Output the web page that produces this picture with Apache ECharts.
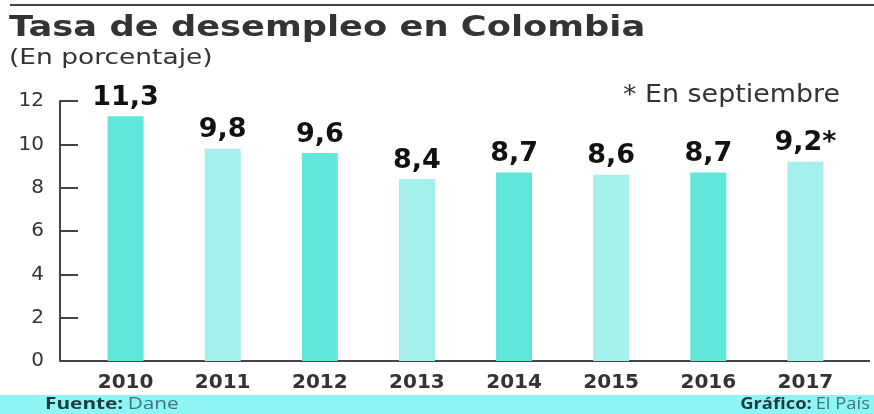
<!DOCTYPE html>
<html>
<head>
<meta charset="utf-8">
<script src="https://cdn.jsdelivr.net/npm/echarts@6/dist/echarts.min.js"></script>
<style>
  html, body { margin: 0; padding: 0; background: #fff; }
  #chart { width: 874px; height: 414px; }
</style>
</head>
<body>
<div id="chart"></div>
<script>
// data
const years = ["2010", "2011", "2012", "2013", "2014", "2015", "2016", "2017"];
const unemployment = [11.3, 9.8, 9.6, 8.4, 8.7, 8.6, 8.7, 9.2];
const notes = ["", "", "", "", "", "", "", "*"];
const yTicks = [0, 2, 4, 6, 8, 10, 12];

const chart = echarts.init(document.getElementById("chart"));

// the source graphic is stretched sideways, so text gets a scaleX
const stretchText = (x, y, text, font, fill, scaleX, align) => ({
  type: "text",
  x: x,
  y: y,
  scaleX: scaleX,
  style: { x: 0, y: 0, text: text, font: font, fill: fill, align: align || "left", verticalAlign: "top" },
});

const footerRich = {
  b: { fill: "#1e3a3c", font: "bold 16px 'Open Sans'" },
  n: { fill: "#3f7478", font: "16px 'Open Sans'" },
};

const option = {
  animation: false,
  backgroundColor: "#ffffff",
  grid: { left: 77, right: 20, top: 101, bottom: 53 },
  xAxis: {
    type: "category",
    data: years,
    axisLine: { show: false },
    axisTick: { show: false },
    axisLabel: {
      margin: 12,
      color: "#333",
      fontFamily: "DejaVu Sans",
      fontWeight: "bold",
      fontSize: 20,
    },
  },
  yAxis: {
    type: "value",
    min: yTicks[0],
    max: yTicks[yTicks.length - 1],
    interval: 2,
    offset: 17,
    axisLine: { show: true, lineStyle: { color: "#444", width: 2 } },
    axisTick: { show: true, inside: true, length: 18, lineStyle: { color: "#444", width: 2 } },
    splitLine: { show: false },
    axisLabel: {
      margin: 16,
      color: "#333",
      fontFamily: "DejaVu Sans",
      fontSize: 20,
    },
  },
  series: [
    {
      type: "bar",
      data: unemployment,
      barWidth: 36,
      itemStyle: {
        color: (p) => (p.dataIndex % 2 === 0 ? "#62e6dc" : "#a3f0ec"),
      },
      label: {
        show: true,
        position: "top",
        distance: 5,
        color: "#111",
        fontFamily: "DejaVu Sans",
        fontWeight: "bold",
        fontSize: 27,
        formatter: (p) => p.value.toFixed(1).replace(".", ",") + notes[p.dataIndex],
      },
    },
  ],
  graphic: [
    // top rule
    { type: "rect", shape: { x: 10, y: 4, width: 864, height: 2 }, style: { fill: "#444" } },
    stretchText(9, 15, "Tasa de desempleo en Colombia", "bold 28px 'DejaVu Sans'", "#333", 1.26),
    stretchText(9, 48, "(En porcentaje)", "21px 'DejaVu Sans'", "#333", 1.26),
    stretchText(840, 84, "* En septiembre", "24px 'DejaVu Sans'", "#333", 1.12, "right"),
    // baseline
    { type: "rect", shape: { x: 60, y: 360, width: 810, height: 2 }, style: { fill: "#444" } },
    // footer band
    { type: "rect", shape: { x: 0, y: 395, width: 874, height: 19 }, style: { fill: "#8ef5f7" } },
    {
      type: "text", x: 45, y: 396, scaleX: 1.3,
      style: { x: 0, y: 0, text: "{b|Fuente:} {n|Dane}", rich: footerRich },
    },
    {
      type: "text", x: 870, y: 396, scaleX: 1.15,
      style: { x: 0, y: 0, align: "right", text: "{b|Gráfico:} {n|El País}", rich: footerRich },
    },
  ],
};

chart.setOption(option);
</script>
</body>
</html>
